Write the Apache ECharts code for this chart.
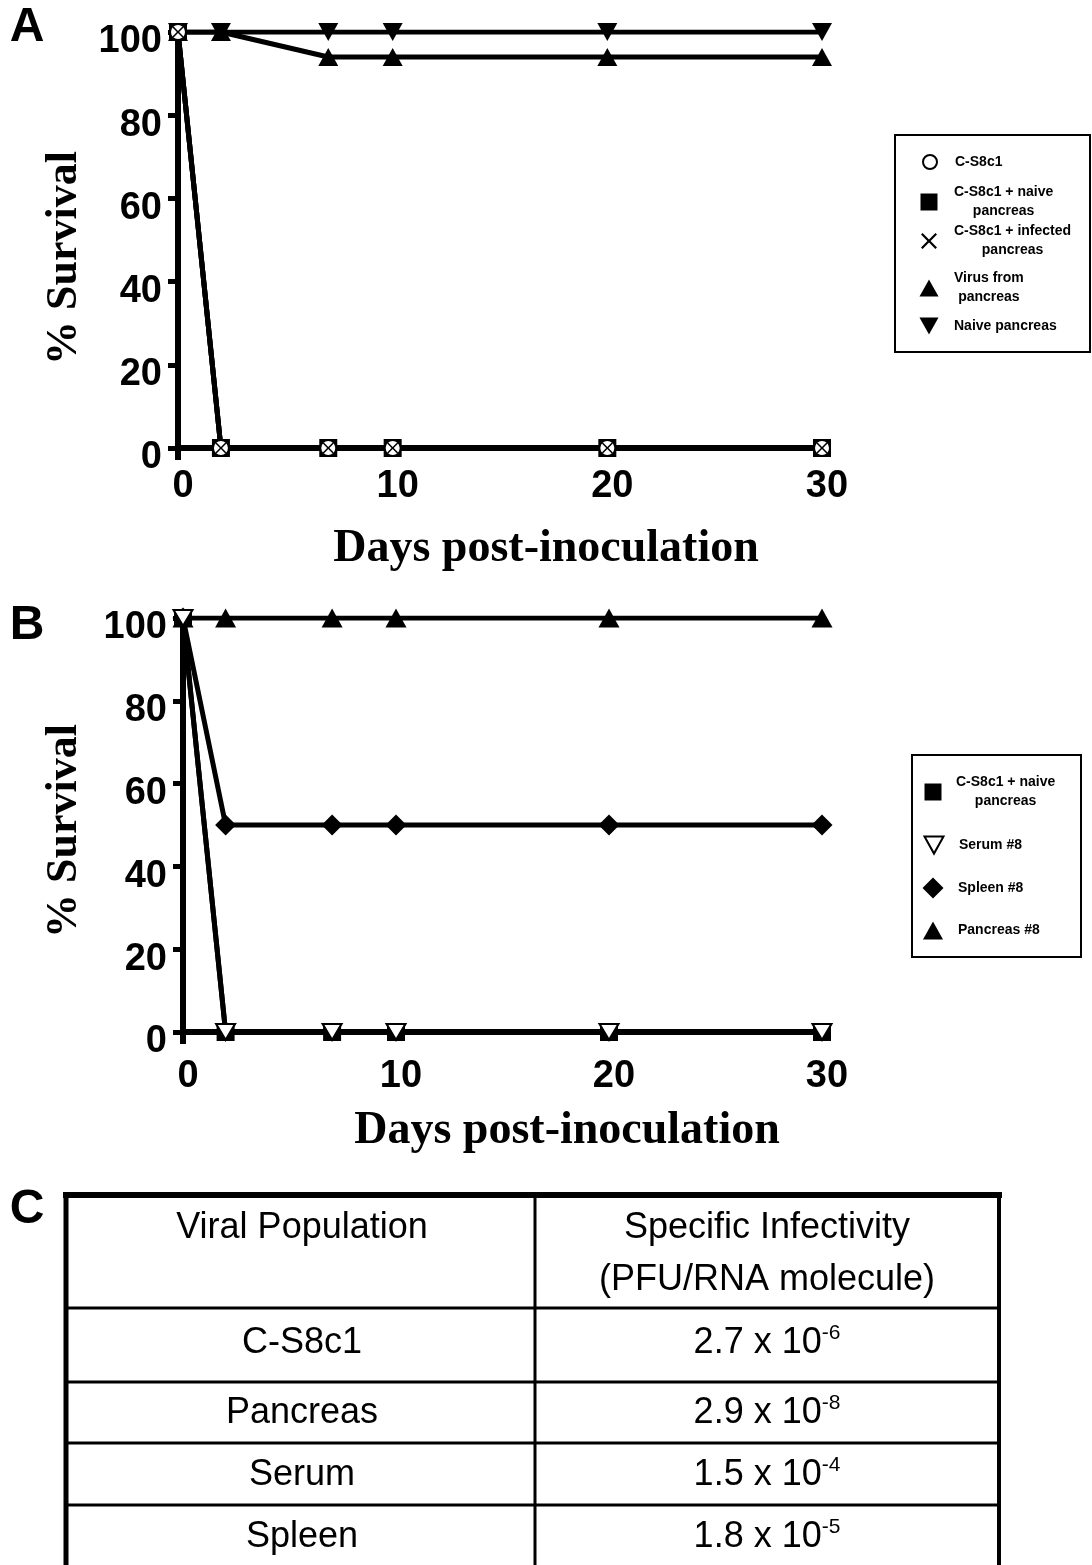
<!DOCTYPE html>
<html>
<head>
<meta charset="utf-8">
<title>Survival and specific infectivity</title>
<script src="https://cdn.jsdelivr.net/npm/echarts@6/dist/echarts.min.js"></script>
<style>
  html, body { margin: 0; padding: 0; background: #fff; }
  #main { width: 1092px; height: 1565px; }
</style>
</head>
<body>
<div id="main"></div>
<script>
// days post-inoculation (x values shared by both panels)
const days = [0, 2, 7, 10, 20, 30];

// panel A, % survival
const aCS8c1 = [100, 0, 0, 0, 0, 0];
const aCS8c1Naive = [100, 0, 0, 0, 0, 0];
const aCS8c1Infected = [100, 0, 0, 0, 0, 0];
const aVirusPancreas = [100, 100, 94, 94, 94, 94];
const aNaivePancreas = [100, 100, 100, 100, 100, 100];

// panel B, % survival
const bCS8c1Naive = [100, 0, 0, 0, 0, 0];
const bSerum8 = [100, 0, 0, 0, 0, 0];
const bSpleen8 = [100, 50, 50, 50, 50, 50];
const bPancreas8 = [100, 100, 100, 100, 100, 100];

// panel C, table
const tableHeader = ['Viral Population', 'Specific Infectivity\n(PFU/RNA molecule)'];
const viralPopulations = ['C-S8c1', 'Pancreas', 'Serum', 'Spleen'];
const infectivityBase = ['2.7', '2.9', '1.5', '1.8'];
const infectivityExp = ['-6', '-8', '-4', '-5'];

// marker shapes
const SQUARE = 'path://M0,0H10V10H0Z';
const TRI_UP = 'path://M10,0L20,18L0,18Z';
const TRI_DOWN = 'path://M0,0L20,0L10,18Z';
const DIAMOND = 'path://M10,0L20,10L10,20L0,10Z';
const CROSS = 'path://M2,0L10,8L18,0L20,2L12,10L20,18L18,20L10,12L2,20L0,18L8,10L0,2Z';

const filled = { color: '#000', opacity: 1 };
const open = { color: '#fff', borderColor: '#000', borderWidth: 2, opacity: 1 };

const SANS = '"Liberation Sans", Arial, sans-serif';
const SERIF = '"Liberation Serif", "Times New Roman", serif';

function pairs(vals) {
    return days.map((d, i) => [d, vals[i]]);
}

// connecting line, drawn under every marker
function lineOf(name, vals, g) {
    return {
        type: 'line', name: name + ' line', xAxisIndex: g, yAxisIndex: g,
        data: pairs(vals), symbol: 'none', z: 2, silent: true,
        lineStyle: { color: '#000', width: 5 }
    };
}

// markers
function marksOf(name, vals, g, symbol, size, style, z) {
    return {
        type: 'scatter', name: name, xAxisIndex: g, yAxisIndex: g,
        data: pairs(vals), symbol: symbol, symbolSize: size,
        itemStyle: style, z: z, silent: true
    };
}

// one legend entry, placed on its own
function legendEntry(name, text, cx, cy, textLeft, symbol, size, style) {
    const lines = text.split('\n');
    const textH = lines.length * 19;
    const label = lines.length > 1
        ? '{a|' + lines[0] + '}\n{b|' + lines[1] + '}'
        : '{a|' + lines[0] + '}';
    const tStyle = { fontFamily: SANS, fontWeight: 'bold', fontSize: 14, lineHeight: 19, color: '#000' };
    return {
        selectedMode: false, orient: 'vertical', padding: 0,
        left: cx - size / 2, top: cy - Math.max(size, textH) / 2,
        itemWidth: size, itemHeight: size, symbolKeepAspect: true,
        data: [{ name: name, icon: symbol, itemStyle: style }],
        formatter: () => label,
        textStyle: Object.assign({}, tStyle, {
            padding: [0, 0, 0, textLeft - (cx - size / 2) - size - 5],
            rich: { a: tStyle, b: Object.assign({ align: 'center' }, tStyle) }
        })
    };
}

function xAxisOf(g, margin) {
    return {
        gridIndex: g, type: 'value', min: 0, max: 30, interval: 10,
        axisLine: { lineStyle: { color: '#000', width: 6 } },
        // only the stub under the origin, as in the figure
        axisTick: { show: true, customValues: [0], length: 12, lineStyle: { color: '#000', width: 6 } },
        splitLine: { show: false },
        axisLabel: { color: '#000', fontFamily: SANS, fontWeight: 'bold', fontSize: 38, margin: margin, padding: [0, 0, 0, 10] }
    };
}

function yAxisOf(g) {
    const digit = { fontFamily: SANS, fontWeight: 'bold', fontSize: 38, color: '#000', padding: [20, 0, 0, 0] };
    return {
        gridIndex: g, type: 'value', min: 0, max: 100, interval: 20,
        axisLine: { show: true, lineStyle: { color: '#000', width: 6 } },
        axisTick: { show: true, length: 10, lineStyle: { color: '#000', width: 5 } },
        splitLine: { show: false },
        axisLabel: {
            color: '#000', fontFamily: SANS, fontWeight: 'bold', fontSize: 38, margin: 16,
            formatter: (v) => '{v|' + v + '}',
            rich: { v: digit }
        }
    };
}

const series = [
    lineOf('Virus from pancreas', aVirusPancreas, 0),
    lineOf('Naive pancreas', aNaivePancreas, 0),
    lineOf('C-S8c1 + naive pancreas', aCS8c1Naive, 0),
    lineOf('C-S8c1', aCS8c1, 0),
    lineOf('C-S8c1 + infected pancreas', aCS8c1Infected, 0),
    marksOf('Virus from pancreas', aVirusPancreas, 0, TRI_UP, [20, 18], filled, 10),
    marksOf('Naive pancreas', aNaivePancreas, 0, TRI_DOWN, [20, 18], filled, 11),
    marksOf('C-S8c1 + naive pancreas', aCS8c1Naive, 0, SQUARE, 18, filled, 12),
    marksOf('C-S8c1', aCS8c1, 0, 'circle', 16, open, 13),
    marksOf('C-S8c1 + infected pancreas', aCS8c1Infected, 0, CROSS, 11, filled, 14),

    lineOf('Pancreas #8', bPancreas8, 1),
    lineOf('Spleen #8', bSpleen8, 1),
    lineOf('C-S8c1 + naive pancreas', bCS8c1Naive, 1),
    lineOf('Serum #8', bSerum8, 1),
    marksOf('Pancreas #8', bPancreas8, 1, TRI_UP, [21, 19], filled, 10),
    marksOf('Spleen #8', bSpleen8, 1, DIAMOND, [21, 21], filled, 11),
    marksOf('C-S8c1 + naive pancreas', bCS8c1Naive, 1, SQUARE, 18, filled, 12),
    marksOf('Serum #8', bSerum8, 1, TRI_DOWN, [19, 16], open, 13)
];

// legends (one component per entry so each row sits where the figure has it)
const legends = [
    legendEntry('C-S8c1', 'C-S8c1', 929, 162, 954, 'circle', 14, open),
    legendEntry('C-S8c1 + naive pancreas', 'C-S8c1 + naive\npancreas', 929, 202, 954, SQUARE, 17, filled),
    legendEntry('C-S8c1 + infected pancreas', 'C-S8c1 + infected\npancreas', 929, 241, 954, CROSS, 16, filled),
    legendEntry('Virus from pancreas', 'Virus from\npancreas', 929, 288, 954, TRI_UP, 19, filled),
    legendEntry('Naive pancreas', 'Naive pancreas', 929, 326, 954, TRI_DOWN, 19, filled),

    legendEntry('C-S8c1 + naive pancreas', 'C-S8c1 + naive\npancreas', 933, 792, 956, SQUARE, 17, filled),
    legendEntry('Serum #8', 'Serum #8', 933, 845, 958, TRI_DOWN, 19, open),
    legendEntry('Spleen #8', 'Spleen #8', 933, 888, 958, DIAMOND, 21, filled),
    legendEntry('Pancreas #8', 'Pancreas #8', 933, 931, 958, TRI_UP, 20, filled)
];

// texts and table drawn as graphics
const graphics = [];

function addText(text, x, y, font, rotation) {
    graphics.push({
        type: 'text', x: x, y: y, rotation: rotation || 0,
        style: { text: text, font: font, fill: '#000', align: 'center', verticalAlign: 'middle' }
    });
}

function addLine(x1, y1, x2, y2, w) {
    graphics.push({
        type: 'line', shape: { x1: x1, y1: y1, x2: x2, y2: y2 },
        style: { stroke: '#000', lineWidth: w }
    });
}

addText('A', 27, 28, 'bold 48px ' + SANS);
addText('B', 27, 626, 'bold 48px ' + SANS);
addText('C', 27, 1210, 'bold 48px ' + SANS);

addText('Days post-inoculation', 546, 549, 'bold 46px ' + SERIF);
addText('Days post-inoculation', 567, 1131, 'bold 46px ' + SERIF);
addText('% Survival', 65, 258, 'bold 44px ' + SERIF, Math.PI / 2);
addText('% Survival', 65, 831, 'bold 44px ' + SERIF, Math.PI / 2);

// legend boxes
graphics.push({ type: 'rect', shape: { x: 895, y: 135, width: 195, height: 217 }, style: { fill: null, stroke: '#000', lineWidth: 2 } });
graphics.push({ type: 'rect', shape: { x: 912, y: 755, width: 169, height: 202 }, style: { fill: null, stroke: '#000', lineWidth: 2 } });

// table grid
const colX = [66, 535, 999];
const rowY = [1195, 1308, 1382, 1443, 1505, 1570];
addLine(63, rowY[0], 1002, rowY[0], 6);
addLine(colX[0], rowY[0], colX[0], 1565, 5);
addLine(colX[2], rowY[0], colX[2], 1565, 4);
addLine(colX[1], rowY[0], colX[1], 1565, 3);
for (let i = 1; i < rowY.length - 1; i++) {
    addLine(colX[0], rowY[i], colX[2], rowY[i], 3);
}

const cellFont = '36px ' + SANS;
const col1 = 302, col2 = 767;
addText(tableHeader[0], col1, 1228, cellFont);
const hdr2 = tableHeader[1].split('\n');
addText(hdr2[0], col2, 1228, cellFont);
addText(hdr2[1], col2, 1280, cellFont);

const rowMid = [1343, 1413, 1475, 1537];
viralPopulations.forEach((name, i) => {
    addText(name, col1, rowMid[i], cellFont);
    graphics.push({
        type: 'text', x: col2, y: rowMid[i],
        style: {
            text: '{n|' + infectivityBase[i] + ' x 10}{s|' + infectivityExp[i] + '}',
            align: 'center', verticalAlign: 'middle',
            rich: {
                n: { fontFamily: SANS, fontSize: 36, lineHeight: 40, fill: '#000', color: '#000' },
                s: { fontFamily: SANS, fontSize: 21, verticalAlign: 'top', fill: '#000', color: '#000' }
            }
        }
    });
});

const chart = echarts.init(document.getElementById('main'), null, { renderer: 'canvas' });
chart.setOption({
    backgroundColor: '#fff',
    animation: false,
    tooltip: { show: false },
    grid: [
        { left: 178, top: 32, width: 644, height: 416 },
        { left: 183, top: 618, width: 639, height: 414 }
    ],
    xAxis: [xAxisOf(0, 20), xAxisOf(1, 26)],
    yAxis: [yAxisOf(0), yAxisOf(1)],
    legend: legends,
    series: series,
    graphic: graphics
});
</script>
</body>
</html>
